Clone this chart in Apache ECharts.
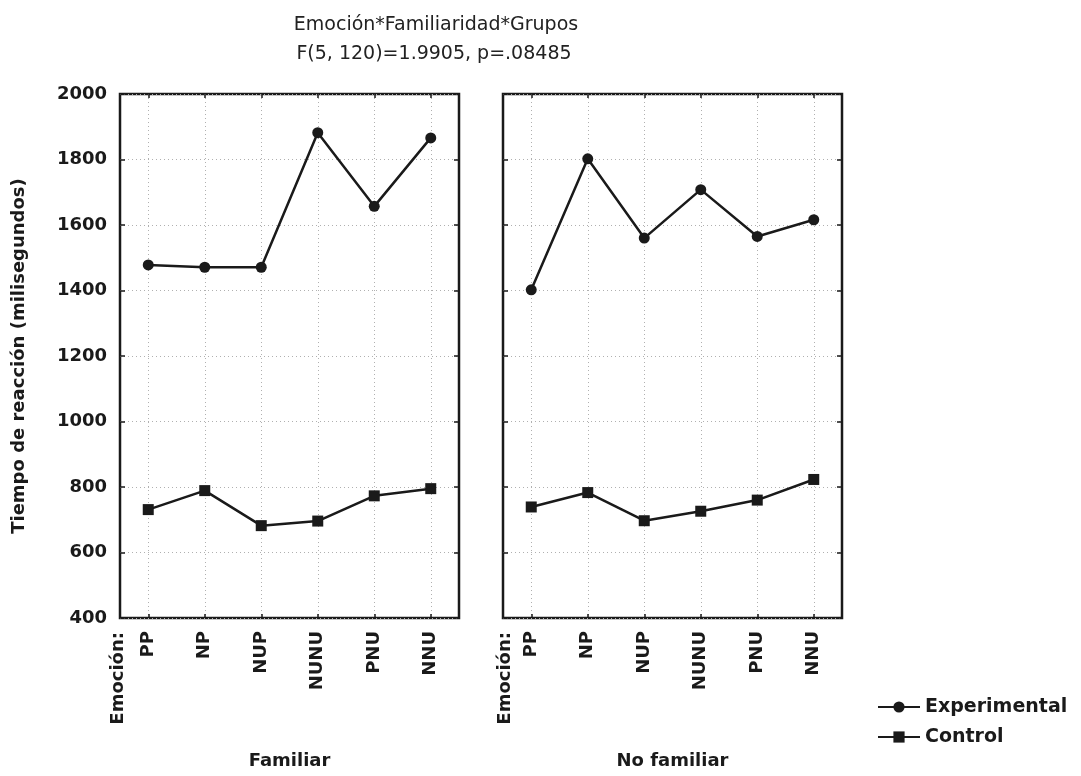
<!DOCTYPE html>
<html>
<head>
<meta charset="utf-8">
<script src="https://cdn.jsdelivr.net/npm/echarts@6/dist/echarts.min.js"></script>
<style>html,body{margin:0;padding:0;background:#fff;}#c{width:1081px;height:776px;}</style>
</head>
<body>
<div id="c"></div>
<script>
var categories = ['PP', 'NP', 'NUP', 'NUNU', 'PNU', 'NNU'];
var panelNames = ['Familiar', 'No familiar'];
var experimentalFamiliar = [1478, 1471, 1471, 1882, 1657, 1866];
var experimentalNoFamiliar = [1402, 1802, 1560, 1708, 1565, 1616];
var controlFamiliar = [731, 789, 682, 696, 773, 795];
var controlNoFamiliar = [739, 783, 697, 726, 760, 823];
var yTicks = { min: 400, max: 2000, interval: 200 };
var titleLine1 = 'Emoción*Familiaridad*Grupos';
var titleLine2 = 'F(5, 120)=1.9905, p=.08485';
var yName = 'Tiempo de reacción (milisegundos)';
var factorLabel = 'Emoción:';

var FONT = '"DejaVu Sans", "Liberation Sans", Arial, sans-serif';
var INK = '#1a1a1a';
var gridLine = { show: true, lineStyle: { color: '#b0b0b0', type: [1, 3], width: 1 } };

var grids = [
  { left: 120, top: 94, width: 339, height: 524, show: true, borderColor: INK, borderWidth: 2.5 },
  { left: 503, top: 94, width: 339, height: 524, show: true, borderColor: INK, borderWidth: 2.5 }
];

function xAx(gi, name) {
  return {
    type: 'category', gridIndex: gi, data: categories, boundaryGap: true,
    name: name, nameLocation: 'middle', nameGap: 134,
    nameTextStyle: { fontFamily: FONT, fontWeight: 'bold', fontSize: 18, color: INK },
    axisLine: { show: false },
    axisTick: { show: true, inside: true, length: 4, alignWithLabel: true, lineStyle: { color: INK, width: 1.5 } },
    splitLine: Object.assign({ alignWithLabel: true }, gridLine),
    axisLabel: { rotate: 90, margin: 13, fontFamily: FONT, fontWeight: 'bold', fontSize: 18, color: INK }
  };
}
function xAxTop(gi) {
  return {
    type: 'category', gridIndex: gi, data: categories, boundaryGap: true, position: 'top',
    axisLine: { show: false },
    axisTick: { show: true, inside: true, length: 4, alignWithLabel: true, lineStyle: { color: INK, width: 1.5 } },
    axisLabel: { show: false }, splitLine: { show: false }
  };
}
function yAx(gi, showLabels) {
  return {
    type: 'value', gridIndex: gi, min: yTicks.min, max: yTicks.max, interval: yTicks.interval,
    name: showLabels ? yName : '', nameLocation: 'middle', nameGap: 92, nameRotate: 90,
    nameTextStyle: { fontFamily: FONT, fontWeight: 'bold', fontSize: 18, color: INK },
    axisLine: { show: false },
    axisTick: { show: true, inside: true, length: 5, lineStyle: { color: INK, width: 1.5 } },
    splitLine: gridLine,
    axisLabel: { show: showLabels, margin: 13, fontFamily: FONT, fontWeight: 'bold', fontSize: 18, color: INK,
      formatter: function (v) { return String(v); } }
  };
}
function yAxRight(gi) {
  return {
    type: 'value', gridIndex: gi, min: yTicks.min, max: yTicks.max, interval: yTicks.interval, position: 'right',
    axisLine: { show: false },
    axisTick: { show: true, inside: true, length: 5, lineStyle: { color: INK, width: 1.5 } },
    splitLine: { show: false }, axisLabel: { show: false }
  };
}
function lineSeries(name, data, xi, yi, symbol, size) {
  return {
    type: 'line', name: name, data: data, xAxisIndex: xi, yAxisIndex: yi,
    symbol: symbol, symbolSize: size, showSymbol: true,
    lineStyle: { color: INK, width: 2.5 }, itemStyle: { color: INK },
    animation: false
  };
}

var chart = echarts.init(document.getElementById('c'), null, { renderer: 'canvas' });
chart.setOption({
  backgroundColor: '#fff',
  animation: false,
  title: [
    { text: titleLine1, left: 431, top: 11, textAlign: 'center',
      textStyle: { fontFamily: FONT, fontWeight: 'normal', fontSize: 19, color: '#222' } },
    { text: titleLine2, left: 429, top: 40, textAlign: 'center',
      textStyle: { fontFamily: FONT, fontWeight: 'normal', fontSize: 19, color: '#222' } }
  ],
  grid: grids,
  xAxis: [xAx(0, panelNames[0]), xAx(1, panelNames[1]), xAxTop(0), xAxTop(1)],
  yAxis: [yAx(0, true), yAx(1, false), yAxRight(0), yAxRight(1)],
  legend: {
    left: 872, top: 691, orient: 'vertical', itemGap: 8, itemWidth: 42, itemHeight: 14,
    data: ['Experimental', 'Control'],
    textStyle: { fontFamily: FONT, fontWeight: 'bold', fontSize: 19, color: INK, lineHeight: 22 }
  },
  graphic: [
    { type: 'text', x: 118, y: 632, rotation: Math.PI / 2,
      style: { text: factorLabel, align: 'right', verticalAlign: 'middle', font: 'bold 18px ' + FONT, fill: INK } },
    { type: 'text', x: 505, y: 632, rotation: Math.PI / 2,
      style: { text: factorLabel, align: 'right', verticalAlign: 'middle', font: 'bold 18px ' + FONT, fill: INK } }
  ],
  series: [
    lineSeries('Experimental', experimentalFamiliar, 0, 0, 'circle', 11),
    lineSeries('Control', controlFamiliar, 0, 0, 'rect', 11),
    lineSeries('Experimental', experimentalNoFamiliar, 1, 1, 'circle', 11),
    lineSeries('Control', controlNoFamiliar, 1, 1, 'rect', 11)
  ]
});
</script>
</body>
</html>
